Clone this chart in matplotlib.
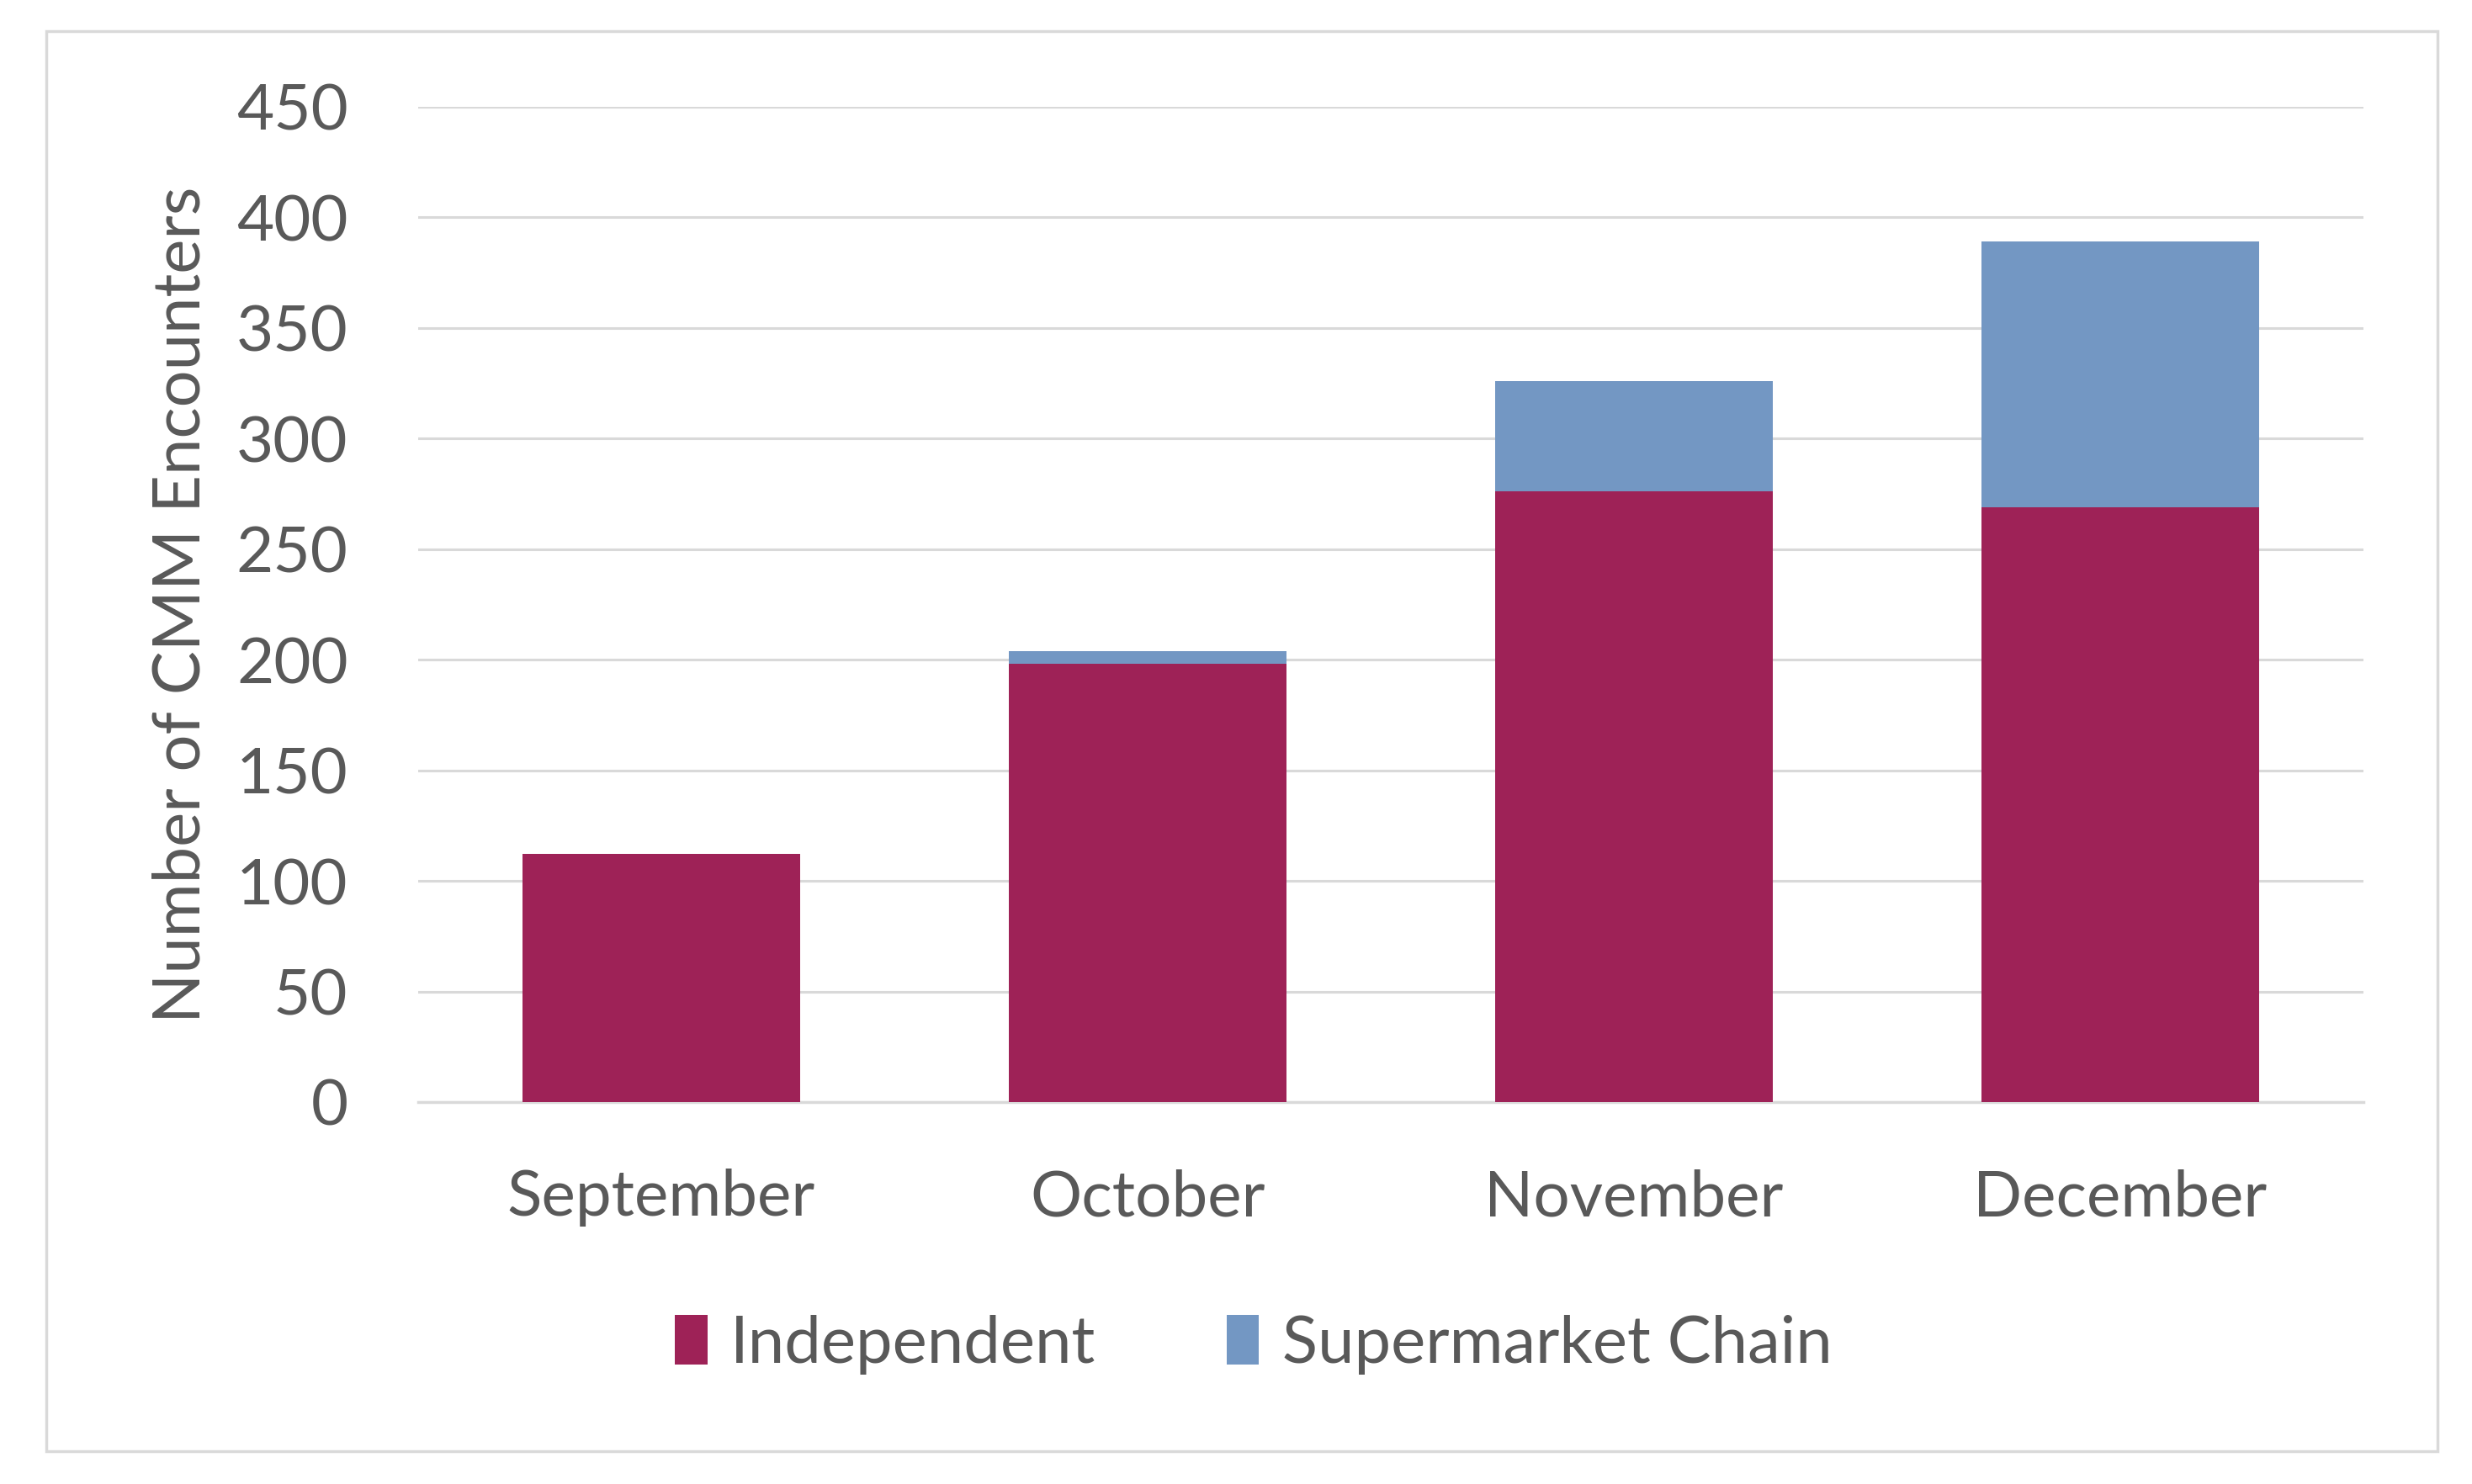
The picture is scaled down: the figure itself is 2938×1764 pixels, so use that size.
import matplotlib
matplotlib.use("Agg")
import matplotlib.pyplot as plt
from matplotlib.patches import Rectangle

months = ["September", "October", "November", "December"]
independent = [112, 198, 276, 269]
supermarket = [0, 6, 50, 120]
yticks = [0, 50, 100, 150, 200, 250, 300, 350, 400, 450]

plt.rcParams['font.family'] = ['Lato', 'DejaVu Sans']
text_color = '#595959'
c_ind = '#9E2257'
c_sup = '#7397C3'
fs = 55

W, H = 2938, 1764
fig = plt.figure(figsize=(W / 100, H / 100), dpi=100)
fig.patch.set_facecolor('white')

# outer frame
fig.patches.append(Rectangle((55 / W, 1 - 1725 / H), (2897 - 55) / W, (1725 - 37) / H,
                             transform=fig.transFigure, fill=False,
                             edgecolor='#d9d9d9', linewidth=2.5))

ax = fig.add_axes([497 / W, 1 - 1310 / H, (2809 - 497) / W, (1310 - 126.7) / H])
x = list(range(len(months)))
ax.bar(x, independent, width=0.57, color=c_ind, label='Independent', zorder=3)
ax.bar(x, supermarket, width=0.57, bottom=independent, color=c_sup,
       label='Supermarket Chain', zorder=3)

ax.set_xlim(-0.5, len(months) - 0.5)
ax.set_ylim(0, 450)
ax.set_yticks(yticks)
ax.set_yticklabels([str(v) for v in yticks])
ax.set_xticks(x)
ax.set_xticklabels(months)
ax.yaxis.grid(True, color='#d9d9d9', linewidth=2.2, zorder=0)
ax.set_axisbelow(True)
for s in ['top', 'right', 'left']:
    ax.spines[s].set_visible(False)
ax.spines['bottom'].set_color('#d9d9d9')
ax.spines['bottom'].set_linewidth(2.5)
ax.spines['bottom'].set_zorder(2)
ax.tick_params(axis='both', length=0, labelsize=fs, labelcolor=text_color)
ax.tick_params(axis='y', pad=60)
ax.tick_params(axis='x', pad=57)

ax.set_ylabel('Number of CMM Encounters', fontsize=56, color=text_color)
ax.yaxis.set_label_coords(-0.106, 0.5)

handles, labels = ax.get_legend_handles_labels()
fig.legend(handles, labels, loc='center', bbox_to_anchor=(0.507, 0.094), ncol=2,
           frameon=False, fontsize=56, labelcolor=text_color,
           handlelength=0.5, handleheight=0.8, handletextpad=0.35, columnspacing=2.0)

fig.savefig('out.png', dpi=100, facecolor='white')
